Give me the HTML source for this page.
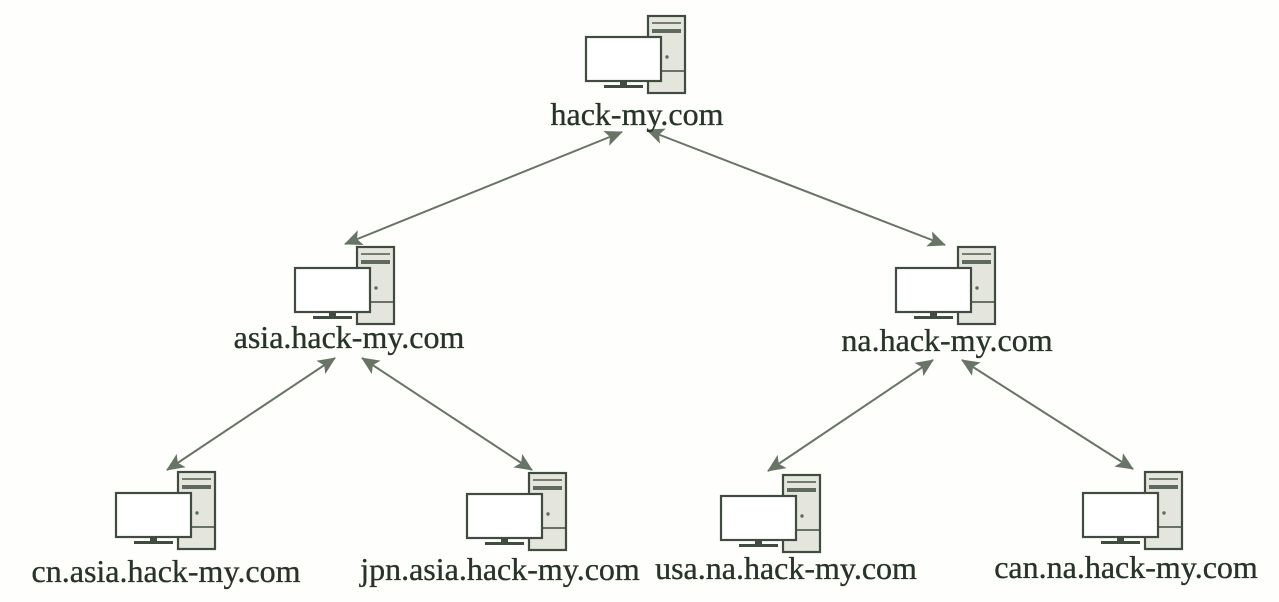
<!DOCTYPE html>
<html>
<head>
<meta charset="utf-8">
<style>
html,body{margin:0;padding:0;background:#fefefc;}
svg{display:block;}
text{font-family:"Liberation Serif","Times New Roman",serif;font-size:32px;fill:#283428;stroke:#283428;stroke-width:0.35px;}
</style>
</head>
<body>
<svg width="1279" height="602" viewBox="0 0 1279 602" xmlns="http://www.w3.org/2000/svg">
<defs>
  <marker id="ah" viewBox="0 0 18 16" refX="17" refY="8" markerWidth="18" markerHeight="16" markerUnits="userSpaceOnUse" orient="auto-start-reverse">
    <path d="M0,0 L18,8 L0,16 L4,8 Z" fill="#687465"/>
  </marker>
  <g id="pc">
    <rect x="0" y="0" width="37" height="77" fill="#e4e6de" stroke="#414c40" stroke-width="2.2"/>
    <line x1="4" y1="7" x2="33" y2="7" stroke="#505a4e" stroke-width="1.6"/>
    <rect x="4" y="13" width="29" height="4" fill="#5f695d"/>
    <circle cx="19" cy="41" r="1.7" fill="#5f695d"/>
    <line x1="1" y1="55" x2="36" y2="55" stroke="#414c40" stroke-width="1.6"/>
    <rect x="-62" y="21" width="75" height="44" fill="#ffffff" stroke="#414c40" stroke-width="2.2"/>
    <rect x="-28" y="65" width="7" height="5" fill="#414c40"/>
    <rect x="-44" y="69" width="39" height="3" fill="#414c40"/>
  </g>
</defs>

<!-- connectors -->
<g stroke="#687465" stroke-width="2" fill="none">
  <line x1="622" y1="132" x2="345" y2="244" marker-start="url(#ah)" marker-end="url(#ah)"/>
  <line x1="647" y1="130" x2="945" y2="245" marker-start="url(#ah)" marker-end="url(#ah)"/>
  <line x1="335" y1="358" x2="167" y2="470" marker-start="url(#ah)" marker-end="url(#ah)"/>
  <line x1="362" y1="358" x2="532" y2="470" marker-start="url(#ah)" marker-end="url(#ah)"/>
  <line x1="933" y1="360" x2="768" y2="471" marker-start="url(#ah)" marker-end="url(#ah)"/>
  <line x1="962" y1="360" x2="1133" y2="469" marker-start="url(#ah)" marker-end="url(#ah)"/>
</g>

<!-- computers -->
<use href="#pc" x="648" y="16"/>
<use href="#pc" x="357" y="247"/>
<use href="#pc" x="958" y="247"/>
<use href="#pc" x="178" y="472"/>
<use href="#pc" x="529" y="473"/>
<use href="#pc" x="783" y="475"/>
<use href="#pc" x="1145" y="472"/>

<!-- labels -->
<text x="637" y="125" text-anchor="middle">hack-my.com</text>
<text x="349" y="348" text-anchor="middle">asia.hack-my.com</text>
<text x="947" y="351" text-anchor="middle">na.hack-my.com</text>
<text x="166" y="582" text-anchor="middle">cn.asia.hack-my.com</text>
<text x="500" y="580" text-anchor="middle">jpn.asia.hack-my.com</text>
<text x="786" y="579" text-anchor="middle">usa.na.hack-my.com</text>
<text x="1126" y="578" text-anchor="middle">can.na.hack-my.com</text>
</svg>
</body>
</html>
